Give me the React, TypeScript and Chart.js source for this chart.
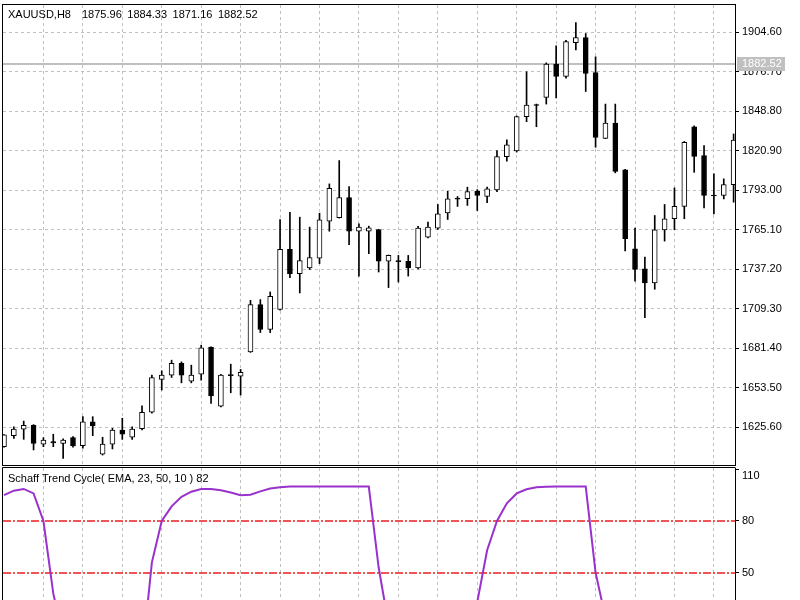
import React, { useEffect, useRef } from "react";
import { Chart, registerables } from "chart.js";

Chart.register(...registerables);

// ---------- data ----------
const symbolLabel = "XAUUSD,H8";
const headerValues = ["1875.96", "1884.33", "1871.16", "1882.52"];
const currentPrice = 1882.52;
const indicatorLabel = "Schaff Trend Cycle( EMA, 23, 50, 10 ) 82";

const opens = [
  1611.9, 1619.7, 1624.2, 1627.0, 1613.6, 1615.5, 1614.3, 1618.3, 1612.6, 1629.5,
  1606.6, 1613.6, 1623.7, 1618.6, 1624.6, 1636.2, 1659.4, 1662.5, 1670.7, 1658.2,
  1663.2, 1682.2, 1640.6, 1662.9, 1661.8, 1678.9, 1712.3, 1694.7, 1708.8, 1751.3,
  1734.1, 1738.1, 1745.1, 1771.2, 1773.6, 1787.9, 1764.1, 1764.1, 1765.3, 1743.0,
  1743.4, 1742.8, 1738.1, 1759.9, 1766.3, 1777.1, 1787.4, 1787.0, 1792.3, 1788.6,
  1793.3, 1816.8, 1820.8, 1845.0, 1853.6, 1858.6, 1882.1, 1873.4, 1897.3, 1900.9,
  1876.2, 1829.7, 1840.5, 1807.4, 1751.7, 1737.6, 1727.5, 1765.1, 1772.9, 1781.6,
  1837.9, 1817.5, 1789.7, 1789.3, 1797.0,
];
const highs = [
  1620.5, 1626.0, 1630.0, 1627.5, 1618.3, 1620.7, 1617.5, 1619.0, 1633.1, 1633.1,
  1618.6, 1624.9, 1632.0, 1626.0, 1640.8, 1662.5, 1665.5, 1673.0, 1671.8, 1669.5,
  1683.6, 1682.5, 1663.0, 1670.2, 1666.5, 1715.3, 1715.8, 1721.2, 1772.4, 1777.5,
  1774.0, 1767.0, 1776.8, 1797.5, 1814.0, 1795.6, 1769.4, 1767.7, 1765.5, 1747.3,
  1747.0, 1747.0, 1767.5, 1770.5, 1783.0, 1792.3, 1788.6, 1795.2, 1793.5, 1795.2,
  1821.0, 1828.6, 1845.5, 1876.7, 1853.9, 1883.0, 1895.0, 1899.0, 1911.4, 1903.7,
  1887.3, 1853.9, 1853.9, 1807.8, 1766.3, 1745.8, 1775.2, 1783.0, 1794.7, 1827.5,
  1838.5, 1824.5, 1804.6, 1801.1, 1832.8,
];
const lows = [
  1611.5, 1617.8, 1617.1, 1609.6, 1611.9, 1611.9, 1603.7, 1611.5, 1610.8, 1619.7,
  1606.0, 1610.3, 1617.1, 1617.1, 1623.7, 1635.5, 1651.9, 1660.8, 1657.0, 1657.0,
  1658.9, 1642.5, 1640.0, 1650.0, 1648.4, 1678.5, 1692.5, 1692.5, 1708.3, 1731.3,
  1720.5, 1737.0, 1741.2, 1764.1, 1773.4, 1754.6, 1732.4, 1748.2, 1735.3, 1724.3,
  1728.2, 1732.4, 1737.5, 1759.4, 1765.3, 1772.4, 1781.6, 1782.3, 1778.7, 1784.2,
  1792.1, 1813.5, 1820.0, 1841.5, 1837.9, 1853.9, 1858.2, 1872.2, 1892.2, 1862.8,
  1823.4, 1829.5, 1805.3, 1750.1, 1728.9, 1703.1, 1723.1, 1757.1, 1765.1, 1772.9,
  1805.7, 1780.6, 1776.4, 1786.9, 1784.6,
];
const closes = [
  1620.2, 1624.4, 1627.0, 1614.3, 1616.6, 1614.6, 1616.6, 1612.4, 1629.5, 1626.5,
  1613.8, 1623.7, 1620.7, 1624.4, 1636.2, 1660.8, 1662.5, 1670.7, 1662.5, 1662.5,
  1681.7, 1647.7, 1662.5, 1662.0, 1664.4, 1712.3, 1694.7, 1718.1, 1751.3, 1734.1,
  1743.3, 1745.4, 1772.2, 1794.4, 1787.9, 1764.1, 1767.0, 1766.5, 1743.0, 1747.0,
  1742.6, 1738.1, 1766.3, 1767.0, 1776.4, 1787.0, 1786.7, 1792.1, 1789.3, 1794.0,
  1816.8, 1825.2, 1845.0, 1853.2, 1852.9, 1882.1, 1873.4, 1898.0, 1900.9, 1875.5,
  1830.4, 1840.5, 1806.4, 1758.8, 1737.2, 1727.5, 1765.1, 1772.9, 1781.6, 1826.9,
  1817.0, 1789.3, 1789.0, 1797.0, 1828.5,
];
const stc = [
  95, 97.6, 98.6, 96, 80, 38, 12, 4, 1, 0,
  0, 0, 0, 0, 0, 56, 80, 88.5, 94, 97,
  98.6, 98.6, 97.8, 96.5, 95, 95.2, 97.2, 98.8, 99.6, 100,
  100, 100, 100, 100, 100, 100, 100, 100, 53, 20,
  6, 2, 0, 0, 0, 0, 0, 8, 33, 63,
  80, 90.3, 96, 98.4, 99.6, 99.9, 100, 100, 100, 100,
  50, 24, 8, 2, 0, 0, 0, 0, 1, 4,
  6, 5, 3, 4, 8,
];
const priceTicks = [1625.6, 1653.5, 1681.4, 1709.3, 1737.2, 1765.1, 1793.0, 1820.9, 1848.8, 1876.7, 1904.6];
const stcTicks = [110, 80, 50];
const stcLevels = [80, 50];

// ---------- view settings ----------
const FONT = "'Liberation Sans', Arial, sans-serif";
const GRID_COLOR = "#c0c0c0";
const X_MIN = -0.1;
const X_MAX = 74.14;
const PRICE_MIN = 1598.97;
const PRICE_MAX = 1923.88;
const STC_MIN = 34.16;
const STC_MAX = 110.75;

function xScale(): any {
  return {
    type: "linear",
    min: X_MIN,
    max: X_MAX,
    offset: false,
    ticks: { display: false },
    grid: { color: GRID_COLOR, drawTicks: false, offset: false, lineWidth: 1 },
    border: { display: false, dash: [3, 3] },
    afterBuildTicks: (s: any) => {
      s.ticks = opens
        .map((_, i) => i)
        .filter((i) => i > 0 && i % 4 === 0)
        .map((v) => ({ value: v }));
    },
    afterFit: (s: any) => {
      s.height = 0;
      s.paddingLeft = 0;
      s.paddingRight = 0;
    },
  };
}

export default function App() {
  const mainRef = useRef<HTMLCanvasElement>(null);
  const subRef = useRef<HTMLCanvasElement>(null);

  useEffect(() => {
    const idx = opens.map((_, i) => i);

    const mainDecor = {
      id: "mainDecor",
      beforeDatasetsDraw(chart: any) {
        const { ctx, chartArea: a, scales } = chart;
        const y = Math.round(scales.y.getPixelForValue(currentPrice));
        ctx.save();
        ctx.strokeStyle = "#c0c0c0";
        ctx.lineWidth = 2;
        ctx.beginPath();
        ctx.moveTo(a.left, y);
        ctx.lineTo(a.right, y);
        ctx.stroke();
        ctx.restore();
      },
      afterDraw(chart: any) {
        const { ctx, chartArea: a, scales } = chart;
        ctx.save();
        ctx.strokeStyle = "#000";
        ctx.lineWidth = 1;
        ctx.setLineDash([]);
        ctx.strokeRect(a.left - 0.5, a.top - 0.5, a.right - a.left + 1, a.bottom - a.top + 1);
        ctx.fillStyle = "#000";
        ctx.font = `11px ${FONT}`;
        ctx.textBaseline = "middle";
        ctx.textAlign = "left";
        ctx.fillText(symbolLabel, a.left + 5, a.top + 10);
        headerValues.forEach((v, k) => {
          ctx.fillText(v, a.left + 79 + k * 45.3, a.top + 10);
        });
        const y = Math.round(scales.y.getPixelForValue(currentPrice));
        ctx.fillStyle = "#c0c0c0";
        ctx.fillRect(a.right + 2, y - 7, 48, 14);
        ctx.fillStyle = "#ffffff";
        ctx.fillText(currentPrice.toFixed(2), a.right + 7, y);
        ctx.restore();
      },
    };

    const main = new Chart(mainRef.current as HTMLCanvasElement, {
      type: "bar",
      data: {
        datasets: [
          {
            label: "wick",
            data: idx.map((i) => ({ x: i, y: [lows[i], highs[i]] })) as any,
            backgroundColor: "#000",
            borderWidth: 0,
            barThickness: 1,
            grouped: false,
            order: 2,
          } as any,
          {
            label: "body",
            data: idx.map((i) => ({
              x: i,
              y: [Math.min(opens[i], closes[i]), Math.max(opens[i], closes[i])],
            })) as any,
            backgroundColor: idx.map((i) => (closes[i] > opens[i] ? "#ffffff" : "#000000")),
            borderColor: "#000",
            borderWidth: 1,
            borderSkipped: false,
            barThickness: 5,
            grouped: false,
            order: 1,
          } as any,
        ],
      },
      options: {
        animation: false,
        responsive: false,
        maintainAspectRatio: false,
        devicePixelRatio: 1,
        layout: { padding: { left: 3, top: 5, right: 0, bottom: 135 } },
        plugins: { legend: { display: false }, tooltip: { enabled: false }, title: { display: false } },
        scales: {
          x: xScale(),
          y: {
            type: "linear",
            position: "right",
            min: PRICE_MIN,
            max: PRICE_MAX,
            afterBuildTicks: (s: any) => {
              s.ticks = priceTicks.map((v) => ({ value: v }));
            },
            afterFit: (s: any) => {
              s.width = 65;
              s.paddingTop = 0;
              s.paddingBottom = 0;
            },
            ticks: {
              color: "#000",
              font: { family: FONT, size: 11 },
              padding: 3,
              autoSkip: false,
              callback: (v: any) => Number(v).toFixed(2),
            },
            grid: {
              color: GRID_COLOR,
              tickColor: "#000",
              tickLength: 4,
              tickBorderDash: [],
              drawTicks: true,
            },
            border: { display: true, color: "#000", width: 1, dash: [3, 3] },
          } as any,
        },
      } as any,
      plugins: [mainDecor],
    });

    const subDecor = {
      id: "subDecor",
      beforeDatasetsDraw(chart: any) {
        const { ctx, chartArea: a, scales } = chart;
        ctx.save();
        ctx.strokeStyle = "rgb(235, 30, 30)";
        ctx.lineWidth = 1.5;
        ctx.setLineDash([8, 2, 2, 2]);
        stcLevels.forEach((lv) => {
          const y = Math.round(scales.y.getPixelForValue(lv));
          ctx.beginPath();
          ctx.moveTo(a.left, y);
          ctx.lineTo(a.right, y);
          ctx.stroke();
        });
        ctx.restore();
      },
      afterDraw(chart: any) {
        const { ctx, chartArea: a } = chart;
        ctx.save();
        ctx.strokeStyle = "#000";
        ctx.lineWidth = 1;
        ctx.setLineDash([]);
        ctx.beginPath();
        ctx.moveTo(a.left - 0.5, a.bottom);
        ctx.lineTo(a.left - 0.5, a.top - 0.5);
        ctx.lineTo(a.right + 0.5, a.top - 0.5);
        ctx.stroke();
        ctx.fillStyle = "#000";
        ctx.font = `11px ${FONT}`;
        ctx.textBaseline = "middle";
        ctx.textAlign = "left";
        ctx.fillText(indicatorLabel, a.left + 5, a.top + 10.5);
        ctx.restore();
      },
    };

    const sub = new Chart(subRef.current as HTMLCanvasElement, {
      type: "line",
      data: {
        datasets: [
          {
            label: "STC",
            data: idx.map((i) => ({ x: i, y: stc[i] })) as any,
            borderColor: "#9932cc",
            borderWidth: 2,
            pointRadius: 0,
            tension: 0,
            fill: false,
          },
        ],
      },
      options: {
        animation: false,
        responsive: false,
        maintainAspectRatio: false,
        devicePixelRatio: 1,
        layout: { padding: { left: 3, top: 468, right: 0, bottom: 0 } },
        plugins: { legend: { display: false }, tooltip: { enabled: false } },
        scales: {
          x: xScale(),
          y: {
            type: "linear",
            position: "right",
            min: STC_MIN,
            max: STC_MAX,
            afterBuildTicks: (s: any) => {
              s.ticks = stcTicks.map((v) => ({ value: v }));
            },
            afterFit: (s: any) => {
              s.width = 65;
              s.paddingTop = 0;
              s.paddingBottom = 0;
            },
            ticks: {
              color: "#000",
              font: { family: FONT, size: 11 },
              padding: 3,
              autoSkip: false,
              callback: (v: any) => (Number(v) === stcTicks[0] ? ["", String(v)] : String(v)),
            },
            grid: {
              drawOnChartArea: false,
              drawTicks: true,
              tickColor: "#000",
              tickLength: 4,
              tickBorderDash: [],
            },
            border: { display: true, color: "#000", width: 1 },
          } as any,
        },
      } as any,
      plugins: [subDecor],
    });

    return () => {
      main.destroy();
      sub.destroy();
    };
  }, []);

  return (
    <div style={{ position: "fixed", left: 0, top: 0, width: 800, height: 600, background: "#fff" }}>
      <canvas
        ref={mainRef}
        width={800}
        height={600}
        style={{ position: "absolute", left: 0, top: 0, width: 800, height: 600 }}
      />
      <canvas
        ref={subRef}
        width={800}
        height={600}
        style={{ position: "absolute", left: 0, top: 0, width: 800, height: 600 }}
      />
    </div>
  );
}
